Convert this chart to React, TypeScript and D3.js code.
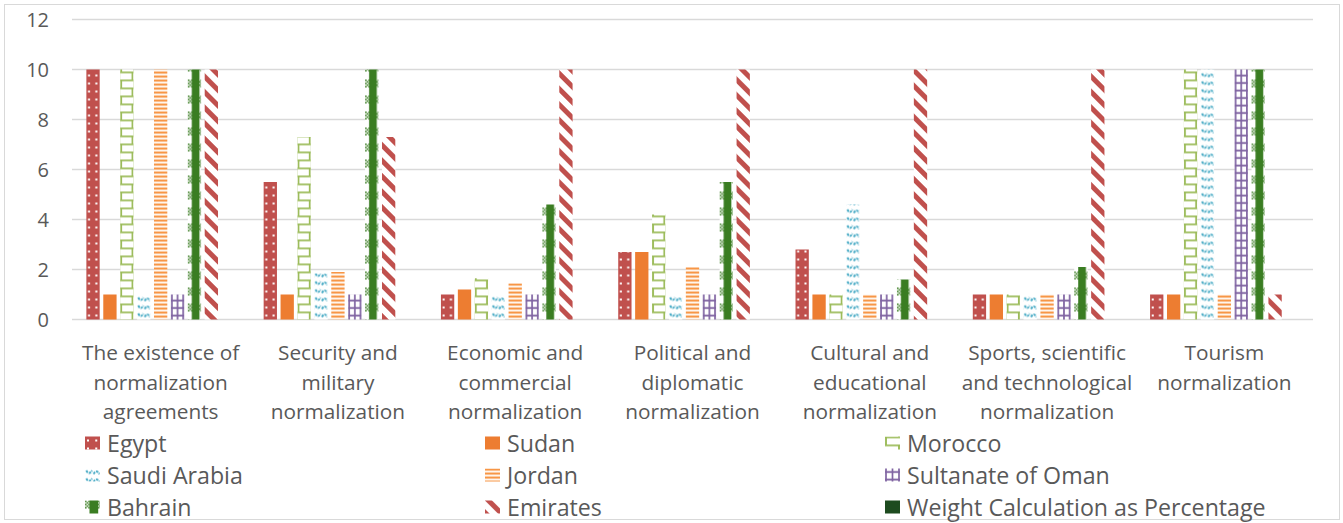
import React from 'react';
import * as d3 from 'd3';

const categories: string[][] = [
  ['The existence of', 'normalization', 'agreements'],
  ['Security and', 'military', 'normalization'],
  ['Economic and', 'commercial', 'normalization'],
  ['Political and', 'diplomatic', 'normalization'],
  ['Cultural and', 'educational', 'normalization'],
  ['Sports, scientific', 'and technological', 'normalization'],
  ['Tourism', 'normalization'],
];

const seriesNames = [
  'Egypt', 'Sudan', 'Morocco', 'Saudi Arabia', 'Jordan',
  'Sultanate of Oman', 'Bahrain', 'Emirates', 'Weight Calculation as Percentage',
];

const egypt = [10, 5.5, 1, 2.7, 2.8, 1, 1];
const sudan = [1, 1, 1.2, 2.7, 1, 1, 1];
const morocco = [10, 7.3, 1.65, 4.2, 1, 1, 10];
const saudiArabia = [1, 1.85, 1, 1, 4.6, 1, 10];
const jordan = [10, 1.9, 1.45, 2.1, 1, 1, 1];
const oman = [1, 1, 1, 1, 1, 1, 10];
const bahrain = [10, 10, 4.6, 5.5, 1.6, 2.1, 10];
const emirates = [10, 7.3, 10, 10, 10, 10, 1];
const weight = [0, 0, 0, 0, 0, 0, 0];

const seriesValues = [egypt, sudan, morocco, saudiArabia, jordan, oman, bahrain, emirates, weight];
const yTicks = [0, 2, 4, 6, 8, 10, 12];

const colors = ['#C0504D', '#ED7D31', '#9BBB59', '#4BACC6', '#F79646', '#8064A2', '#3A7D22', '#C0504D', '#1D4B1F'];

const W = 1343;
const H = 523;
const plotLeft = 72;
const plotRight = 1313;
const yZero = 319.5;
const yTop = 19.5;
const textColor = '#595959';
const fontFamily = '"Open Sans", Lato, sans-serif';

function tileFor(si: number, id: string, x: number, y: number, w: number) {
  const c = colors[si];
  if (si === 0) {
    return (
      <pattern key={id} id={id} patternUnits="userSpaceOnUse" x={x} y={y} width={w} height={8}>
        <rect width={w} height={8} fill={c} />
        <rect x={w * 0.2 - 1} y={3} width={2} height={2} fill="#fff" />
        <rect x={w * 0.75 - 1} y={3} width={2} height={2} fill="#fff" />
      </pattern>
    );
  }
  if (si === 2) {
    return (
      <pattern key={id} id={id} patternUnits="userSpaceOnUse" x={x} y={y} width={w} height={16}>
        <rect width={w} height={16} fill="#fff" />
        <path d={`M0,0.9H${w}M0,8.9H${w}M1,0V8.9M${w - 1},8.9V16`} stroke={c} strokeWidth={1.9} fill="none" />
      </pattern>
    );
  }
  if (si === 3) {
    const a = w / 12;
    return (
      <pattern key={id} id={id} patternUnits="userSpaceOnUse" x={x} y={y} width={w} height={8}>
        <rect width={w} height={8} fill="#fff" />
        <path d={`M${1 * a},2 Q${3.3 * a},7 ${5.6 * a},2 M${6.8 * a},5.5 Q${9.2 * a},0.5 ${11.6 * a},5.5`} stroke={c} strokeWidth={2} strokeDasharray="2.6 0.9" fill="none" />
      </pattern>
    );
  }
  if (si === 4) {
    return (
      <pattern key={id} id={id} patternUnits="userSpaceOnUse" x={x} y={y} width={w} height={4}>
        <rect width={w} height={4} fill="#fff" />
        <rect width={w} height={2.2} fill={c} />
      </pattern>
    );
  }
  if (si === 5) {
    return (
      <pattern key={id} id={id} patternUnits="userSpaceOnUse" x={x} y={y} width={w} height={7.5}>
        <rect width={w} height={7.5} fill="#fff" />
        <path d={`M1,0V7.5M${w / 2},0V7.5M${w - 1},0V7.5M0,3.5H${w}`} stroke={c} strokeWidth={1.7} fill="none" />
      </pattern>
    );
  }
  if (si === 6) {
    const s = 1.6;
    const cells: JSX.Element[] = [];
    const cols = Math.ceil(w / s);
    for (let r = 0; r < 5; r++) {
      for (let cc = 0; cc < cols; cc++) {
        if ((r + cc) % 2 === 0) cells.push(<rect key={`${r}-${cc}`} x={cc * s} y={r * s} width={s} height={s} fill={c} />);
      }
    }
    return (
      <pattern key={id} id={id} patternUnits="userSpaceOnUse" x={x} y={y} width={w} height={16}>
        <rect width={w} height={16} fill="#fff" />
        <rect x={w * 0.3} width={w * 0.58} height={16} fill={c} />
        {cells}
        <rect x={w * 0.4} width={w * 0.4} height={16} fill={c} />
      </pattern>
    );
  }
  return null;
}

function fillFor(si: number, id: string) {
  if (si === 1 || si === 8) return colors[si];
  if (si === 7) return 'url(#emiratesStripe)';
  return `url(#${id})`;
}

export default function App() {
  const x0 = d3.scaleBand<number>().domain(d3.range(categories.length)).range([plotLeft, plotRight]).paddingInner(0).paddingOuter(0);
  const x1 = d3.scaleBand<number>().domain(d3.range(seriesNames.length)).range([0, x0.bandwidth()]).paddingInner(0.213).paddingOuter(0.85);
  const y = d3.scaleLinear().domain([0, 12]).range([yZero, yTop]);
  const bw = x1.bandwidth();

  const patterns: JSX.Element[] = [];
  const bars: JSX.Element[] = [];
  seriesValues.forEach((vals, si) => {
    vals.forEach((v, ci) => {
      if (v <= 0) return;
      const bx = (x0(ci) as number) + (x1(si) as number);
      const id = `p-${si}-${ci}`;
      const t = tileFor(si, id, bx, yZero, bw);
      if (t) patterns.push(t);
      bars.push(
        <rect key={id} x={bx} y={y(v)} width={bw} height={yZero - y(v)} fill={fillFor(si, id)} />
      );
    });
  });

  const legendCols = [85, 485, 885];
  const legendRows = [443, 475, 507];
  const legendItems = seriesNames.map((name, si) => {
    const col = si % 3;
    const row = Math.floor(si / 3);
    const lx = legendCols[col];
    const ly = legendRows[row];
    const id = `lg-${si}`;
    const t = tileFor(si, id, lx, ly - 6.5, 15);
    if (t) patterns.push(t);
    return (
      <g key={id}>
        <rect x={lx} y={ly - 6.5} width={15} height={13} fill={fillFor(si, id)} />
        <text x={lx + 22} y={ly} dominantBaseline="central" fontSize={23.2} fill={textColor} fontFamily={fontFamily}>{name}</text>
      </g>
    );
  });

  return (
    <svg width={W} height={H} style={{ position: 'absolute', left: 0, top: 0, background: '#fff' }}>
      <defs>
        <pattern id="emiratesStripe" patternUnits="userSpaceOnUse" width={11} height={11} patternTransform="rotate(-45)">
          <rect width={11} height={11} fill="#fff" />
          <rect width={5} height={11} fill={colors[7]} />
        </pattern>
        {patterns}
      </defs>
      <rect x={0} y={0} width={W} height={H} fill="#fff" />
      <rect x={4.5} y={4.5} width={1335} height={515} fill="none" stroke="#D9D9D9" strokeWidth={1} />
      {yTicks.map((t) => (
        <g key={t}>
          <line x1={plotLeft} x2={plotRight} y1={y(t)} y2={y(t)} stroke="#D9D9D9" strokeWidth={1.5} />
          <text x={49} y={y(t)} textAnchor="end" dominantBaseline="central" fontSize={20} fill={textColor} fontFamily={fontFamily}>{t}</text>
        </g>
      ))}
      {bars}
      {categories.map((lines, ci) => (
        <text key={ci} textAnchor="middle" fontSize={20.8} fill={textColor} fontFamily={fontFamily}>
          {lines.map((ln, li) => (
            <tspan key={li} x={(x0(ci) as number) + x0.bandwidth() / 2} y={352 + li * 29.7} dominantBaseline="central">{ln}</tspan>
          ))}
        </text>
      ))}
      {legendItems}
    </svg>
  );
}
